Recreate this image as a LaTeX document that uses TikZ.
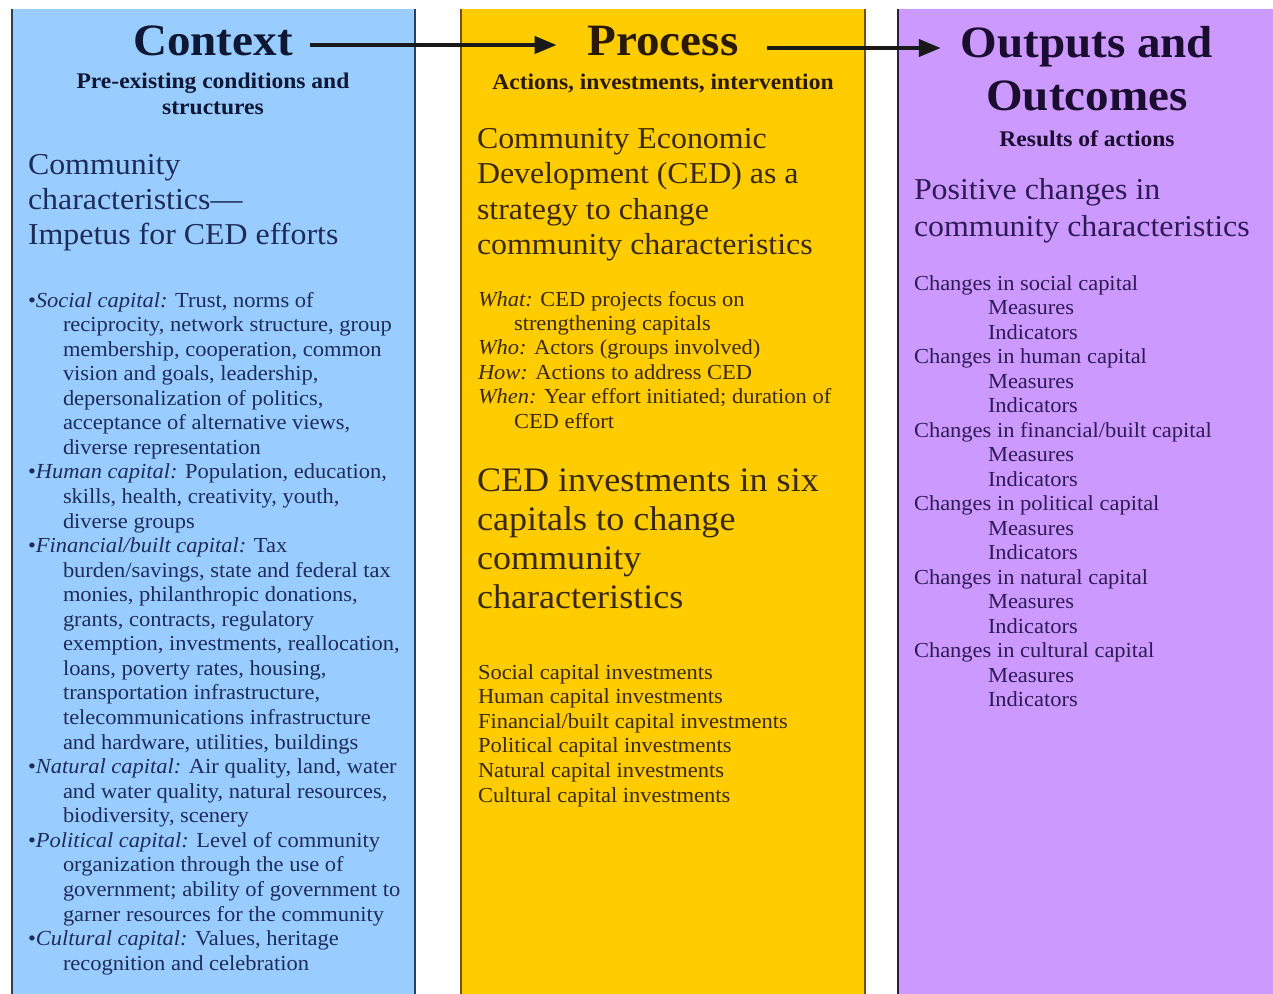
\documentclass[tikz,border=0pt]{standalone}
\usepackage{fontspec}
\setmainfont{Liberation Serif}[FakeStretch=1.05]
\usetikzlibrary{arrows.meta}
\definecolor{bluefill}{HTML}{99CCFF}
\definecolor{yellowfill}{HTML}{FFCC00}
\definecolor{purplefill}{HTML}{CC99FF}
\definecolor{blueborder}{HTML}{2F3F5C}
\definecolor{yellowborder}{HTML}{6B5418}
\definecolor{purpleborder}{HTML}{2A1F45}
\definecolor{bluetext}{HTML}{1E2C5A}
\definecolor{bluetitle}{HTML}{0E1733}
\definecolor{yellowtext}{HTML}{3A2906}
\definecolor{yellowtitle}{HTML}{2A1A02}
\definecolor{purpletext}{HTML}{2E1A55}
\definecolor{purpletitle}{HTML}{1A0D30}
\newcommand\fsTitle{\fontsize{45}{53}\selectfont\bfseries}
\newcommand\fsSub{\fontsize{22.5}{26}\selectfont\bfseries}
\newcommand\fsBig{\fontsize{30.5}{35}\selectfont}
\newcommand\fsBigger{\fontsize{34.5}{39}\selectfont}
\newcommand\fsSmall{\fontsize{21.5}{24.5}\selectfont}
\begin{document}
\begin{tikzpicture}[x=1bp,y=-1bp,
  every node/.style={inner sep=0pt,outer sep=0pt},
  titlecn/.style={anchor=base,font=\fsTitle},
  subcn/.style={anchor=base,font=\fsSub},
  bigln/.style={anchor=base west,font=\fsBig},
  biggerln/.style={anchor=base west,font=\fsBigger},
  smallln/.style={anchor=base west,font=\fsSmall},
  arr/.style={line width=4bp,color=black!90,-{Triangle[length=22bp,width=17bp]}}]
\useasboundingbox (0,0) rectangle (1273,994);
\fill[white] (0,0) rectangle (1273,994);
% panels
\fill[bluefill] (12,9) rectangle (415,994);
\draw[blueborder,line width=2bp] (12,9) -- (12,994) (415,9) -- (415,994);
\fill[yellowfill] (461,9) rectangle (865,994);
\draw[yellowborder,line width=2bp] (461,9) -- (461,994) (865,9) -- (865,994);
\fill[purplefill] (898,9) rectangle (1273,994);
\draw[purpleborder,line width=2.5bp] (898,9) -- (898,994);

% ---------- Context ----------
\node[titlecn,text=bluetitle] (ctx) at (213,55) {Context};
\node[subcn,text=bluetitle] (ctxs1) at (213,88) {Pre-existing conditions and};
\node[subcn,text=bluetitle] (ctxs2) at (213,114) {structures};
\node[bigln,text=bluetext] (ctxb1) at (28,174) {Community};
\node[bigln,text=bluetext] (ctxb2) at (28,209) {characteristics—};
\node[bigln,text=bluetext] (ctxb3) at (28,244) {Impetus for CED efforts};
\foreach \xx/\t [count=\i] in {
 28/{•\textit{Social capital:} Trust, norms of},
 63/{reciprocity, network structure, group},
 63/{membership, cooperation, common},
 63/{vision and goals, leadership,},
 63/{depersonalization of politics,},
 63/{acceptance of alternative views,},
 63/{diverse representation},
 28/{•\textit{Human capital:} Population, education,},
 63/{skills, health, creativity, youth,},
 63/{diverse groups},
 28/{•\textit{Financial/built capital:} Tax},
 63/{burden/savings, state and federal tax},
 63/{monies, philanthropic donations,},
 63/{grants, contracts, regulatory},
 63/{exemption, investments, reallocation,},
 63/{loans, poverty rates, housing,},
 63/{transportation infrastructure,},
 63/{telecommunications infrastructure},
 63/{and hardware, utilities, buildings},
 28/{•\textit{Natural capital:} Air quality, land, water},
 63/{and water quality, natural resources,},
 63/{biodiversity, scenery},
 28/{•\textit{Political capital:} Level of community},
 63/{organization through the use of},
 63/{government; ability of government to},
 63/{garner resources for the community},
 28/{•\textit{Cultural capital:} Values, heritage},
 63/{recognition and celebration}}
 \node[smallln,text=bluetext,name=bl\i] at (\xx,{307+(\i-1)*24.56}) {\t};

% ---------- Process ----------
\node[titlecn,text=yellowtitle] (proc) at (663,55) {Process};
\node[subcn,text=yellowtitle] (procs) at (663,89) {Actions, investments, intervention};
\foreach \t [count=\i] in {Community Economic, Development (CED) as a, strategy to change, community characteristics}
 \node[bigln,text=yellowtext,name=yb\i] at (477,{148+(\i-1)*35.5}) {\t};
\foreach \xx/\t [count=\i] in {
 478/{\textit{What:} CED projects focus on},
 514/{strengthening capitals},
 478/{\textit{Who:} Actors (groups involved)},
 478/{\textit{How:} Actions to address CED},
 478/{\textit{When:} Year effort initiated; duration of},
 514/{CED effort}}
 \node[smallln,text=yellowtext,name=yw\i] at (\xx,{306+(\i-1)*24.4}) {\t};
\foreach \t [count=\i] in {CED investments in six, capitals to change, community, characteristics}
 \node[biggerln,text=yellowtext,name=yc\i] at (477,{491+(\i-1)*39.3}) {\t};
\foreach \t [count=\i] in {Social capital investments, Human capital investments, Financial/built capital investments, Political capital investments, Natural capital investments, Cultural capital investments}
 \node[smallln,text=yellowtext,name=yi\i] at (478,{679+(\i-1)*24.6}) {\t};

% ---------- Outputs ----------
\node[titlecn,text=purpletitle] (outa) at (1087,57) {Outputs and};
\node[titlecn,text=purpletitle] (outb) at (1087,110) {Outcomes};
\node[subcn,text=purpletitle] (outs) at (1087,146) {Results of actions};
\node[bigln,text=purpletext] (pb1) at (914,199) {Positive changes in};
\node[bigln,text=purpletext] (pb2) at (914,236) {community characteristics};
\foreach \xx/\t [count=\i] in {
 914/{Changes in social capital}, 988/{Measures}, 988/{Indicators},
 914/{Changes in human capital}, 988/{Measures}, 988/{Indicators},
 914/{Changes in financial/built capital}, 988/{Measures}, 988/{Indicators},
 914/{Changes in political capital}, 988/{Measures}, 988/{Indicators},
 914/{Changes in natural capital}, 988/{Measures}, 988/{Indicators},
 914/{Changes in cultural capital}, 988/{Measures}, 988/{Indicators}}
 \node[smallln,text=purpletext,name=pl\i] at (\xx,{290+(\i-1)*24.5}) {\t};

% ---------- arrows ----------
\coordinate (ya) at (0,45);
\coordinate (yb) at (0,48);
\draw[arr,shorten <=17bp,shorten >=31bp] (ctx.east |- ya) -- (proc.west |- ya);
\draw[arr,shorten <=29bp,shorten >=20bp] (proc.east |- yb) -- (outa.west |- yb);
\end{tikzpicture}
\end{document}
